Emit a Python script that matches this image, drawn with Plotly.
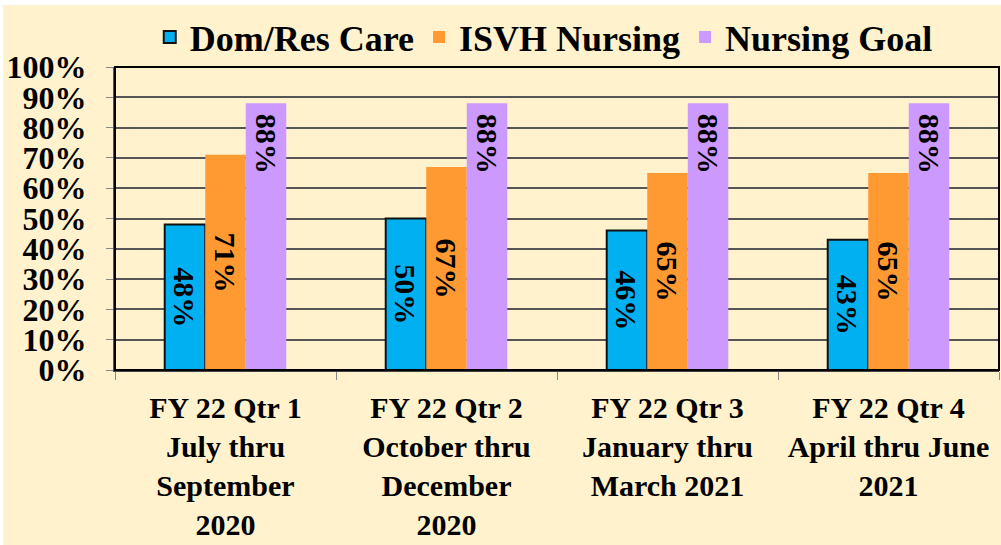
import plotly.graph_objects as go

categories = [
    "FY 22 Qtr 1<br>July thru<br>September<br>2020",
    "FY 22 Qtr 2<br>October thru<br>December<br>2020",
    "FY 22 Qtr 3<br>January thru<br>March 2021",
    "FY 22 Qtr 4<br>April thru June<br>2021",
]
dom_res = [0.48, 0.50, 0.46, 0.43]
isvh = [0.71, 0.67, 0.65, 0.65]
goal = [0.88, 0.88, 0.88, 0.88]

FONT = "Liberation Serif, Times New Roman, serif"
BG = "#FFF2CC"

fig = go.Figure()
fig.add_trace(go.Bar(
    name="Dom/Res Care", x=categories, y=dom_res,
    marker=dict(color="#00B0F0", line=dict(color="#111111", width=2)),
    text=[f"<b>{v:.0%}</b>" for v in dom_res], textposition="inside",
    insidetextanchor="middle", textangle=90,
    textfont=dict(family=FONT, size=30, color="black"),
))
fig.add_trace(go.Bar(
    name="ISVH Nursing", x=categories, y=isvh,
    marker=dict(color="#FF9A33", line=dict(color="#FF9A33", width=0)),
    text=[f"<b>{v:.0%}</b>" for v in isvh], textposition="inside",
    insidetextanchor="middle", textangle=90,
    textfont=dict(family=FONT, size=30, color="black"),
))
fig.add_trace(go.Bar(
    name="Nursing Goal", x=categories, y=goal,
    marker=dict(color="#CC99FF", line=dict(color="#CC99FF", width=0)),
    text=[f"<b>\u00a0{v:.0%}</b>" for v in goal], textposition="inside",
    insidetextanchor="end", textangle=90,
    textfont=dict(family=FONT, size=30, color="black"),
))

fig.update_layout(
    width=998, height=540,
    margin=dict(l=112, r=2, t=60, b=175),
    paper_bgcolor=BG, plot_bgcolor=BG,
    font=dict(family=FONT, size=30, color="black", weight="bold"),
    barmode="group", bargap=0.45, bargroupgap=0,
    showlegend=True,
    legend=dict(orientation="h", x=0.485, xanchor="center", y=1.0, yanchor="bottom",
                font=dict(family=FONT, size=36, weight="bold"),
                bgcolor="rgba(0,0,0,0)", itemsizing="constant"),
    xaxis=dict(
        automargin=False,
        tickson="boundaries", ticks="outside", ticklen=8, tickcolor="#888888",
        showline=True, linecolor="#444444", linewidth=2,
        showgrid=False, tickfont=dict(family=FONT, size=30, weight="bold"),
        ticklabelstandoff=10,
    ),
    yaxis=dict(
        automargin=False,
        range=[0, 1], dtick=0.1, tickformat=".0%",
        ticks="outside", ticklen=7, tickcolor="#888888",
        showline=True, linecolor="#555555", linewidth=2,
        showgrid=True, gridcolor="#555555", gridwidth=1.5,
        tickfont=dict(family=FONT, size=32, weight="bold"),
        ticklabelstandoff=13, zeroline=False,
    ),
    shapes=[dict(type="rect", xref="paper", yref="paper", x0=0, x1=1, y0=0, y1=1,
                 line=dict(color="black", width=2), layer="above")],
)
for tr in fig.data:
    tr.update(constraintext="none")

fig.write_html(
    "out.html",
    post_script="document.body.style.margin='5px 0 0 3px';document.body.style.overflow='hidden';document.body.style.background='white';",
)
